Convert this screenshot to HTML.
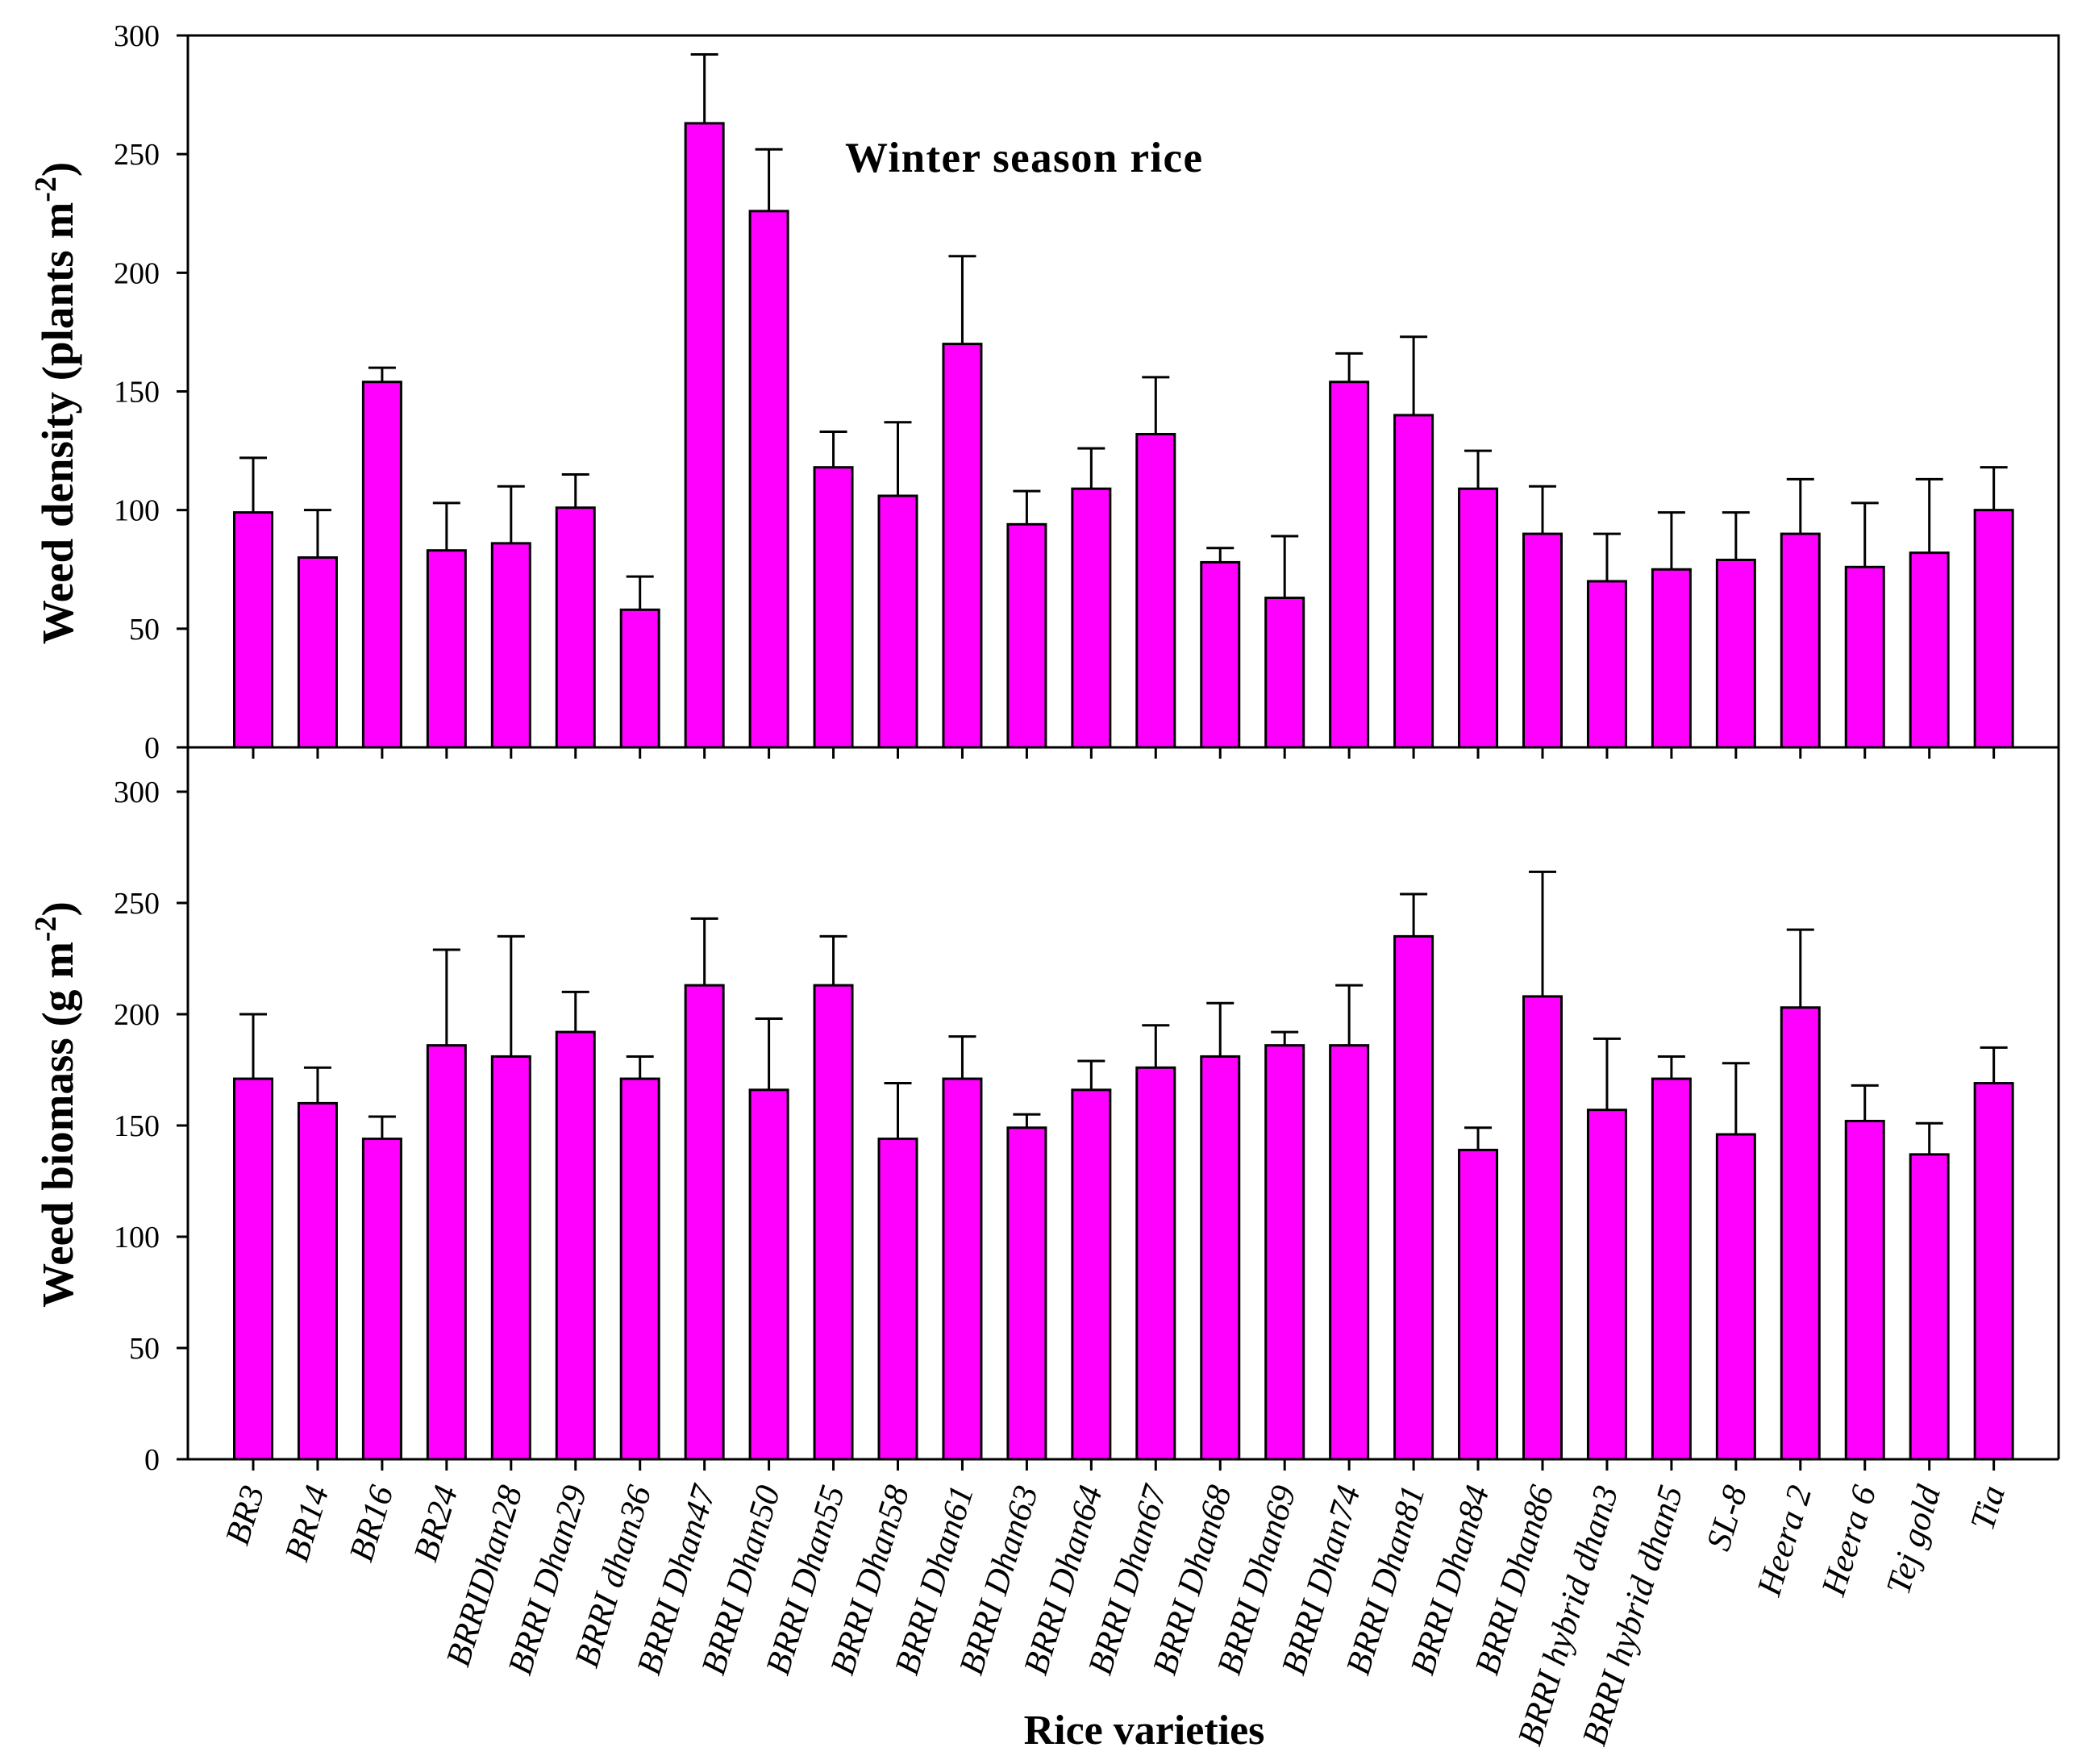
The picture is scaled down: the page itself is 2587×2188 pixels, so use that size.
<!DOCTYPE html>
<html><head><meta charset="utf-8"><style>
html,body{margin:0;padding:0;background:#fff;}
svg{display:block;}
text{font-family:"Liberation Serif",serif;fill:#000;}
</style></head>
<body>
<svg id="chart" width="2587" height="2188" viewBox="0 0 2587 2188" xmlns="http://www.w3.org/2000/svg"></svg>
<script>
const categories=["BR3","BR14","BR16","BR24","BRRIDhan28","BRRI Dhan29","BRRI dhan36","BRRI Dhan47","BRRI Dhan50","BRRI Dhan55","BRRI Dhan58","BRRI Dhan61","BRRI Dhan63","BRRI Dhan64","BRRI Dhan67","BRRI Dhan68","BRRI Dhan69","BRRI Dhan74","BRRI Dhan81","BRRI Dhan84","BRRI Dhan86","BRRI hybrid dhan3","BRRI hybrid dhan5","SL-8","Heera 2","Heera 6","Tej gold","Tia"];
const densityValues=[99,80,154,83,86,101,58,263,226,118,106,170,94,109,132,78,63,154,140,109,90,70,75,79,90,76,82,100];
const densityErrTop=[122,100,160,103,110,115,72,292,252,133,137,207,108,126,156,84,89,166,173,125,110,90,99,99,113,103,113,118];
const biomassValues=[171,160,144,186,181,192,171,213,166,213,144,171,149,166,176,181,186,186,235,139,208,157,171,146,203,152,137,169];
const biomassErrTop=[200,176,154,229,235,210,181,243,198,235,169,190,155,179,195,205,192,213,254,149,264,189,181,178,238,168,151,185];
const densityTicks=[0,50,100,150,200,250,300];
const biomassTicks=[0,50,100,150,200,250,300];

const NS="http://www.w3.org/2000/svg";
const svg=document.getElementById('chart');
function el(tag,attrs,parent){const e=document.createElementNS(NS,tag);for(const k in attrs)e.setAttribute(k,attrs[k]);(parent||svg).appendChild(e);return e;}

const X0=233,X1=2553;
const firstTick=314,step=79.95,barW=47;
function xPos(i){return firstTick+i*step;}
const topPanel={y0:927,yTop:44};
const botPanel={y0:1810,y300:982};
function yTopPanel(v){return topPanel.y0-(v/300)*(topPanel.y0-topPanel.yTop);}
function yBotPanel(v){return botPanel.y0-(v/300)*(botPanel.y0-botPanel.y300);}

function drawPanel(vals,errs,yf,ticks,name,y0,yT,drawTopLine){
  const g=el('g',{});
  
  
  vals.forEach((v,i)=>{
    const cx=xPos(i);
    const ey=yf(errs[i]);
    const e=el('line',{x1:cx,x2:cx,y1:yf(v),y2:ey,stroke:'#000','stroke-width':3},g);
    
    
    const c=el('line',{x1:cx-17,x2:cx+17,y1:ey,y2:ey,stroke:'#000','stroke-width':3},g);
    
    
    const r=el('rect',{x:cx-barW/2,y:yf(v),width:barW,height:y0-yf(v),fill:'#ff00ff',stroke:'#000','stroke-width':3},g);
    
    
    const t=el('line',{x1:cx,x2:cx,y1:y0,y2:y0+14,stroke:'#000','stroke-width':3},g);
    
    
  });
  const fr=el('path',{d:`M${X0},${y0} L${X0},${yT} ${drawTopLine?'L':'M'}${X1},${yT} L${X1},${y0} M${X0-14},${y0} L${X1},${y0}`,fill:'none',stroke:'#000','stroke-width':3},g);
  
  
  ticks.forEach(t=>{
    const y=yf(t);
    const tk=el('line',{x1:X0-14,x2:X0,y1:y,y2:y,stroke:'#000','stroke-width':3},g);
    
    
    const lb=el('text',{x:198,y:y+13,'text-anchor':'end','font-size':38},g);
    
    
    lb.textContent=t;
  });
}
drawPanel(densityValues,densityErrTop,yTopPanel,densityTicks,'density',927,44,true);
drawPanel(biomassValues,biomassErrTop,yBotPanel,biomassTicks,'biomass',1810,927,false);

categories.forEach((c,i)=>{
  const x=xPos(i)+14,y=1848;
  const t=el('text',{x:x,y:y,'text-anchor':'end','font-size':43,'font-style':'italic',transform:`rotate(-73 ${x} ${y})`});
  
  
  t.textContent=c;
});
</script>
<script>
(function(){
const NS="http://www.w3.org/2000/svg";const svg=document.getElementById('chart');
function add(tag,attrs,html){const e=document.createElementNS(NS,tag);for(const k in attrs)e.setAttribute(k,attrs[k]);e.innerHTML=html;svg.appendChild(e);return e;}
add('text',{x:1048,y:213,'font-size':53,'font-weight':'bold',textLength:443,},'Winter season rice');
add('text',{x:1419,y:2163,'font-size':52,'font-weight':'bold','text-anchor':'middle',},'Rice varieties');
add('text',{x:0,y:0,'font-size':55,'font-weight':'bold','text-anchor':'middle',transform:'translate(90,500) rotate(-90)',},'Weed density (plants m<tspan dy="-21" font-size="38">-2</tspan><tspan dy="21">)</tspan>');
add('text',{x:0,y:0,'font-size':55,'font-weight':'bold','text-anchor':'middle',transform:'translate(90,1370) rotate(-90)',},'Weed biomass (g m<tspan dy="-21" font-size="38">-2</tspan><tspan dy="21">)</tspan>');
})();
</script>
</body></html>
